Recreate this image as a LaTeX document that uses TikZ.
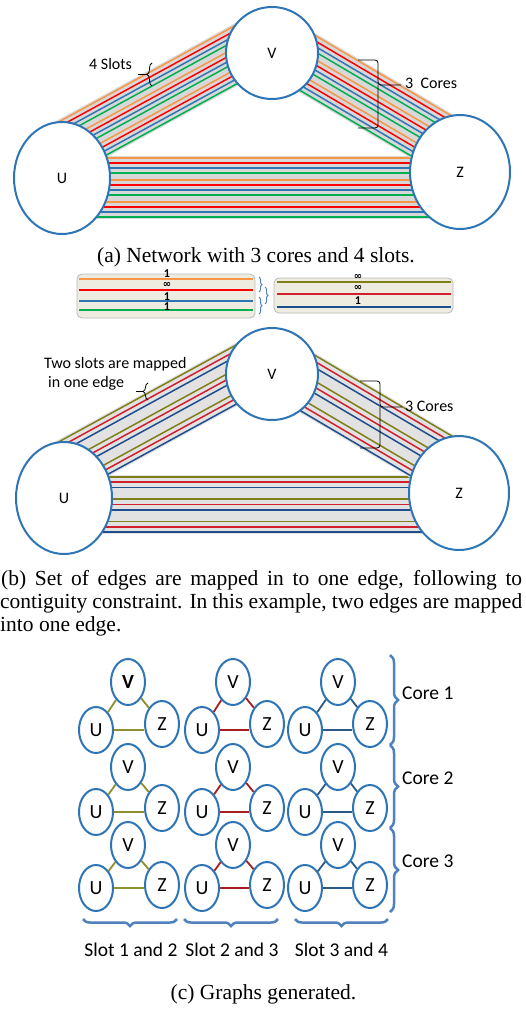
\documentclass[tikz,border=0pt]{standalone}
\usepackage{fontspec}
\setmainfont{Liberation Serif}
\newfontfamily\calib{Carlito}
\newfontfamily\djv{DejaVu Sans}
\usetikzlibrary{shapes.geometric,decorations.pathreplacing,calc}

\definecolor{nodeblue}{HTML}{2E75B6}
\definecolor{lorange}{HTML}{F79646}
\definecolor{lred}{HTML}{FF0000}
\definecolor{lblue}{HTML}{2E75B6}
\definecolor{lgreen}{HTML}{00B050}
\definecolor{bolive}{HTML}{7F7F1A}
\definecolor{bred}{HTML}{D0202E}
\definecolor{bnavy}{HTML}{1F4E8C}
\definecolor{colive}{HTML}{8F8F2E}
\definecolor{cred}{HTML}{A51E22}
\definecolor{cnavy}{HTML}{2A5A85}
\definecolor{bracebl}{HTML}{4F81BD}
\definecolor{beige}{HTML}{EEECE1}
\definecolor{bandgray}{HTML}{D8D8D8}
\definecolor{bandgrayb}{HTML}{E2E2E2}

\newcommand\drawband[9]{%
  \foreach \i/\c in #9{%
    \pgfmathsetmacro\o{(\i-#8)*#7}%
    \draw[\c, line width=1.5pt, shift={({\o*(#5)},{\o*(#6)})}] (#1,#2) -- (#3,#4);
  }}
\def\listA{0/lorange,1/lred,2/lblue,3/lgreen,4.4/lorange,5.4/lred,6.4/lblue,7.4/lgreen,8.8/lorange,9.8/lred,10.8/lblue,11.8/lgreen}
\def\listB{0/bolive,1/bred,2/bnavy,4.2/bolive,5.2/bred,6.2/bnavy,8.4/bolive,9.4/bred,10.4/bnavy}

\tikzset{
 bignode/.style={draw=nodeblue, line width=2pt, fill=white, inner sep=0pt, font=\calib\fontsize{16}{16}\selectfont},
 gnode/.style={ellipse, draw=nodeblue, line width=2pt, fill=white, minimum width=34pt, minimum height=46pt, inner sep=0pt, font=\calib\fontsize{20}{20}\selectfont},
 lab/.style={inner sep=0pt, anchor=base west, font=\calib\fontsize{16}{16}\selectfont},
 captext/.style={inner sep=0pt, font=\fontsize{21.5}{23}\selectfont},
 corelab/.style={inner sep=0pt, anchor=base west, font=\calib\fontsize{19.5}{19.5}\selectfont},
 blackbrace/.style={black, line width=0.8pt},
 bluebrace/.style={bracebl, line width=2.5pt, decorate, decoration={brace, amplitude=8pt}},
 smallbrace/.style={bracebl, line width=1pt, decorate, decoration={brace, amplitude=3pt}},
 stripline/.style={line width=1.8pt},
 stripbox/.style={draw=gray!55, fill=beige, rounded corners=5pt, line width=0.8pt},
 numlab/.style={inner sep=0pt, font=\calib\bfseries\fontsize{12}{12}\selectfont},
 inflab/.style={inner sep=0pt, font=\djv\bfseries\fontsize{10}{10}\selectfont},
 gedge/.style={line width=1.8pt},
}

\begin{document}
\begin{tikzpicture}[x=1pt,y=-1pt]
\fill[white] (0,0) rectangle (526,1009);
\useasboundingbox (0,0) rectangle (526,1009);

% ---------------- (a) ----------------
\draw[bandgray, line width=56pt] (52.1,155.1) -- (264.9,38.9);
\drawband{52.1}{155.1}{264.9}{38.9}{0.479}{0.878}{4.4}{5.9}{\listA}
\draw[bandgray, line width=63pt] (70,187.5) -- (455,187.5);
\drawband{70}{187.5}{455}{187.5}{0}{1}{5.0}{5.9}{\listA}
\draw[bandgray, line width=59pt] (274.9,43.7) -- (455.6,150.2);
\drawband{274.9}{43.7}{455.6}{150.2}{-0.508}{0.861}{4.66}{5.9}{\listA}
\node[bignode, circle, minimum size=92pt] (Va) at (272,53) {V};
\node[bignode, ellipse, minimum width=96pt, minimum height=112pt] (Ua) at (62,178) {U};
\node[bignode, ellipse, minimum width=100pt, minimum height=114pt] (Za) at (460,172) {Z};

\node[lab] (slotsa) at (89,69.5) {4 Slots};
\draw[blackbrace, decorate, decoration={brace,amplitude=5pt}] (152,86) -- (152,63);
\coordinate (slotsatip) at (147,74.5);
\draw[blackbrace] (138,74.5) -- (slotsatip);
\node[lab] (coresa) at (405,88.5) {3\ \ Cores};
\draw[blackbrace, rounded corners=3pt] (358,60) -- (378,60) -- (378,85) -- (401,85);
\draw[blackbrace, rounded corners=3pt] (358,128) -- (378,128) -- (378,85);

\node[captext, anchor=base] (capa) at (256,262) {(a) Network with 3 cores and 4 slots.};

% ---------------- strip ----------------
\draw[stripbox] (77,274) rectangle (255,318);
\draw[stripline, lorange] (79,279) -- (253,279);
\draw[stripline, lred] (79,290) -- (253,290);
\draw[stripline, lblue] (79,301) -- (253,301);
\draw[stripline, lgreen] (79,310) -- (253,310);
\node[numlab] (n1) at (167,273.5) {1};
\node[inflab] (n2) at (167,285) {∞};
\node[numlab] (n3) at (167,296.5) {1};
\node[numlab] (n4) at (167,306.5) {1};
\draw[smallbrace] (259,277) -- (259,292);
\draw[smallbrace] (259,297) -- (259,314);
\draw[smallbrace] (265,287) -- (265,304);

\draw[stripbox] (274,278) rectangle (453,313);
\draw[stripline, bolive] (277,282) -- (451,282);
\draw[stripline, bred] (277,294) -- (451,294);
\draw[stripline, bnavy] (277,307) -- (451,307);
\node[inflab] (m1) at (358,276.5) {∞};
\node[inflab] (m2) at (358,288) {∞};
\node[numlab] (m3) at (358,301) {1};

% ---------------- (b) ----------------
\begin{scope}[shift={(0,320)}]
\draw[bandgrayb, line width=56pt] (52.1,155.1) -- (264.9,38.9);
\drawband{52.1}{155.1}{264.9}{38.9}{0.479}{0.878}{5.0}{5.2}{\listB}
\draw[bandgrayb, line width=59pt] (70,184.5) -- (455,184.5);
\drawband{70}{184.5}{455}{184.5}{0}{1}{5.3}{5.2}{\listB}
\draw[bandgrayb, line width=59pt] (274.9,43.7) -- (455.6,150.2);
\drawband{274.9}{43.7}{455.6}{150.2}{-0.508}{0.861}{5.3}{5.2}{\listB}
\node[bignode, circle, minimum size=92pt] (Vb) at (272,54) {V};
\node[bignode, ellipse, minimum width=96pt, minimum height=112pt] (Ub) at (64,178) {U};
\node[bignode, ellipse, minimum width=100pt, minimum height=114pt] (Zb) at (459,173) {Z};
\end{scope}

\node[lab] (twoa) at (44,368.5) {Two slots are mapped};
\node[lab] (twob) at (48,387.5) {in one edge};
\draw[blackbrace, decorate, decoration={brace,amplitude=5pt}] (148,400) -- (148,383);
\coordinate (twotip) at (143,391.5);
\draw[blackbrace] (136,391.5) -- (twotip);
\node[lab] (coresb) at (405,411.5) {3 Cores};
\draw[blackbrace, rounded corners=3pt] (360,381) -- (380,381) -- (380,407) -- (402,407);
\draw[blackbrace, rounded corners=3pt] (360,448) -- (380,448) -- (380,407);

\node[captext, anchor=base west] (capb1) at (1,585) {\makebox[521pt][s]{(b) Set of edges are mapped in to one edge, following to}};
\node[captext, anchor=base west] (capb2) at (0,608) {\makebox[522pt][s]{contiguity constraint. In this example, two edges are mapped}};
\node[captext, anchor=base west] (capb3) at (0,631) {into one edge.};

% ---------------- (c) ----------------
\foreach \col/\vx/\ux/\zx/\ec in {1/128/96/162/colive, 2/233/202/267/cred, 3/338/305/370/cnavy}{
  \foreach \row/\vy/\uy/\zy in {1/682/730/724, 2/767/812/808, 3/845/888/885}{
    \node[gnode] (V\col\row) at (\vx,\vy) {\ifnum\col\row=11 \bfseries V\else V\fi};
    \node[gnode] (U\col\row) at (\ux,\uy) {U};
    \node[gnode] (Z\col\row) at (\zx,\zy) {Z};
    \draw[gedge, \ec] (U\col\row) -- (V\col\row);
    \draw[gedge, \ec] (V\col\row) -- (Z\col\row);
    \draw[gedge, \ec] (U\col\row.east) -- (U\col\row.east -| Z\col\row.west);
  }
}

\draw[bluebrace] (390,655) -- (390,745);
\draw[bluebrace] (390,745) -- (390,828);
\draw[bluebrace] (390,828) -- (390,912);
\node[corelab] (core1) at (402,699) {Core 1};
\node[corelab] (core2) at (402,784) {Core 2};
\node[corelab] (core3) at (402,867) {Core 3};

\draw[bluebrace, decoration={brace, mirror, amplitude=7pt}] (83,919) -- (177,919);
\draw[bluebrace, decoration={brace, mirror, amplitude=7pt}] (184,919) -- (278,919);
\draw[bluebrace, decoration={brace, mirror, amplitude=7pt}] (295,919) -- (388,919);
\node[corelab, anchor=base] (s1) at (131,956) {Slot 1 and 2};
\node[corelab, anchor=base] (s2) at (232,956) {Slot 2 and 3};
\node[corelab, anchor=base] (s3) at (341.5,956) {Slot 3 and 4};

\node[captext, anchor=base] (capc) at (263.5,999) {(c) Graphs generated.};
\end{tikzpicture}
\end{document}
